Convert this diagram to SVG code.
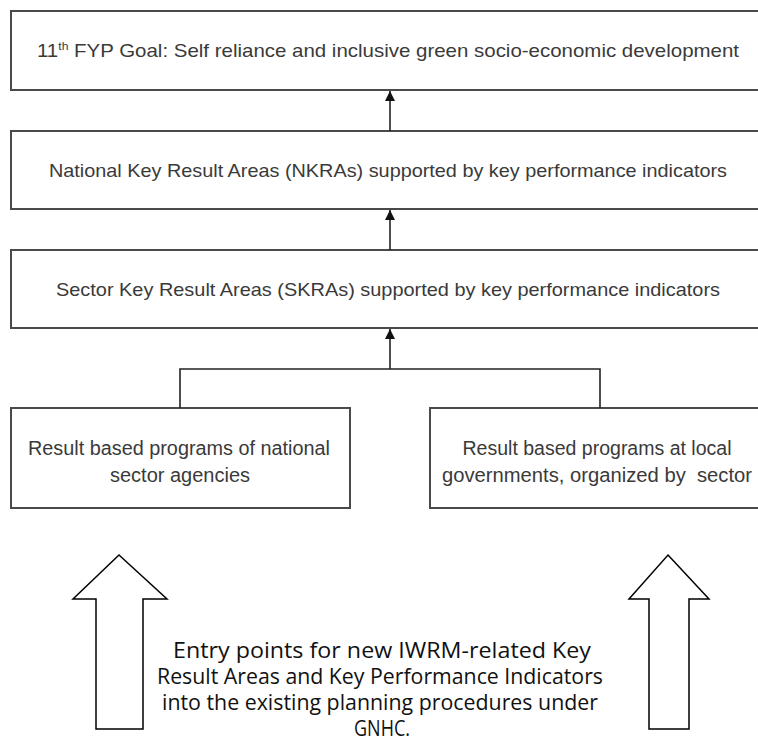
<svg xmlns="http://www.w3.org/2000/svg" width="758" height="745" viewBox="0 0 758 745">
  <defs>
    <style>
      .box { fill: #ffffff; stroke: #4a4a4a; stroke-width: 2; }
      .lbl { font-family: "Liberation Sans", Arial, sans-serif; font-size: 18.5px; fill: #3a3a3a; text-anchor: middle; }
      .sub { font-size: 19.5px; }
      .link { fill: none; stroke: #222222; stroke-width: 1.6; }
      .fat { fill: #ffffff; stroke: #000000; stroke-width: 1.5; stroke-linejoin: miter; }
      .note { font-family: "Open Sans", "Noto Sans", sans-serif; font-size: 21px; fill: #111111; text-anchor: middle; }
    </style>
    <marker id="tip" viewBox="0 0 10 10" refX="10" refY="5" markerWidth="10" markerHeight="10" markerUnits="userSpaceOnUse" orient="auto">
      <path d="M0,0 L10,5 L0,10 z" fill="#111111"/>
    </marker>
  </defs>

  <rect width="758" height="745" fill="#ffffff"/>

  <!-- goal -->
  <g id="goal">
    <rect class="box" x="11" y="11" width="756" height="79"/>
    <text class="lbl" x="388" y="57" textLength="702" lengthAdjust="spacingAndGlyphs">11<tspan font-size="11" dy="-7">th</tspan><tspan dy="7"> FYP Goal: Self reliance and inclusive green socio-economic development</tspan></text>
  </g>

  <!-- national key result areas -->
  <g id="nkra">
    <rect class="box" x="11" y="131" width="756" height="78"/>
    <text class="lbl" x="388" y="177" textLength="678" lengthAdjust="spacingAndGlyphs">National Key Result Areas (NKRAs) supported by key performance indicators</text>
  </g>

  <!-- sector key result areas -->
  <g id="skra">
    <rect class="box" x="11" y="250" width="756" height="78"/>
    <text class="lbl" x="388" y="296" textLength="664" lengthAdjust="spacingAndGlyphs">Sector Key Result Areas (SKRAs) supported by key performance indicators</text>
  </g>

  <!-- national sector agencies -->
  <g id="national-programs">
    <rect class="box" x="11" y="408" width="339" height="100"/>
    <text class="lbl sub" x="179" y="455" textLength="302" lengthAdjust="spacingAndGlyphs">Result based programs of national</text>
    <text class="lbl sub" x="180" y="482" textLength="140" lengthAdjust="spacingAndGlyphs">sector agencies</text>
  </g>

  <!-- local governments -->
  <g id="local-programs">
    <rect class="box" x="430" y="408" width="337" height="100"/>
    <text class="lbl sub" x="597" y="455" textLength="269" lengthAdjust="spacingAndGlyphs">Result based programs at local</text>
    <text class="lbl sub" x="597" y="482" textLength="310" lengthAdjust="spacingAndGlyphs" xml:space="preserve">governments, organized by  sector</text>
  </g>

  <!-- connectors -->
  <g id="connectors">
    <line class="link" x1="390" y1="131" x2="390" y2="91" marker-end="url(#tip)"/>
    <line class="link" x1="390" y1="250" x2="390" y2="210" marker-end="url(#tip)"/>
    <line class="link" x1="390" y1="369" x2="390" y2="329" marker-end="url(#tip)"/>
    <polyline class="link" points="180,408 180,369 600,369 600,408"/>
  </g>

  <!-- entry point block arrows -->
  <g id="entry-left">
    <polygon class="fat" points="119,555 167,599 143,599 143,729 96,729 96,599 73,599"/>
  </g>
  <g id="entry-right">
    <polygon class="fat" points="668,555 709,599 689,599 689,729 649,729 649,599 629,599"/>
  </g>

  <!-- entry point note -->
  <g id="entry-note">
    <text class="note" x="382" y="658" textLength="418" lengthAdjust="spacingAndGlyphs">Entry points for new IWRM-related Key</text>
    <text class="note" x="380" y="684" textLength="446" lengthAdjust="spacingAndGlyphs">Result Areas and Key Performance Indicators</text>
    <text class="note" x="380" y="710" textLength="436" lengthAdjust="spacingAndGlyphs">into the existing planning procedures under</text>
    <text class="note" x="382" y="736" textLength="56" lengthAdjust="spacingAndGlyphs">GNHC.</text>
  </g>
</svg>
